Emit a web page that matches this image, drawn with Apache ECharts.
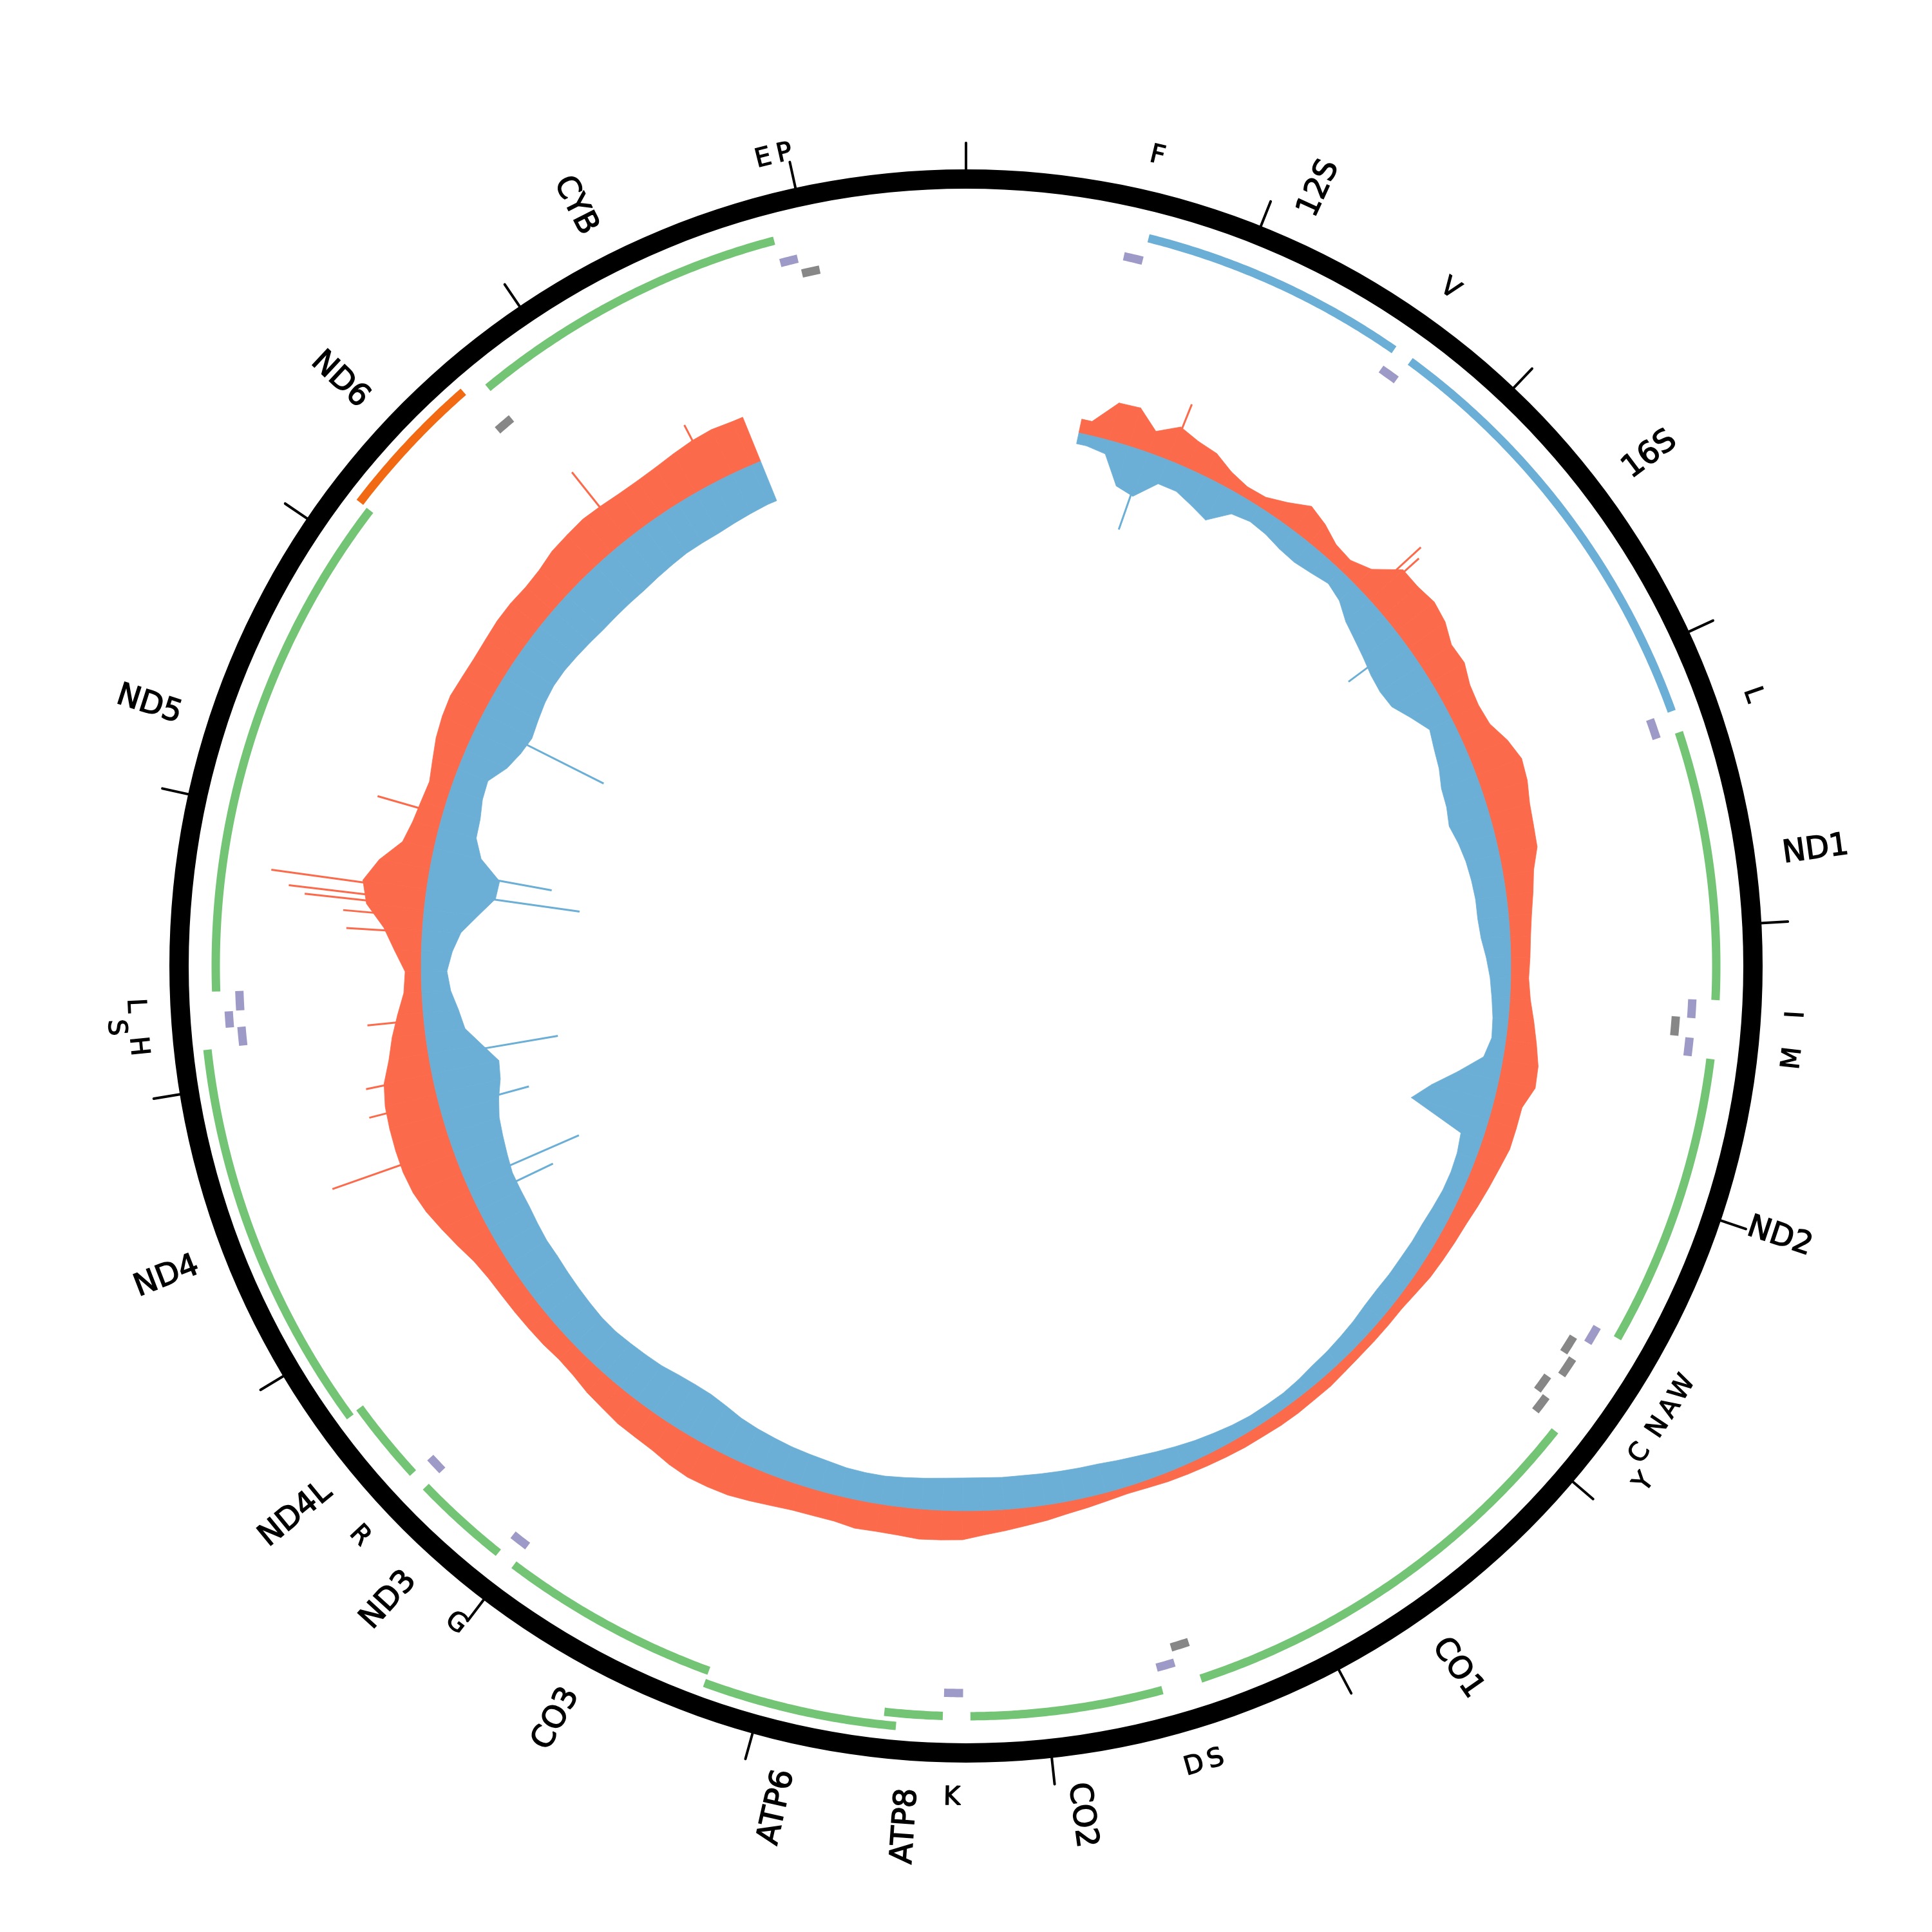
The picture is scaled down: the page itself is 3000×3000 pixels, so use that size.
<!DOCTYPE html>
<html>
<head>
<meta charset="utf-8">
<script src="https://cdn.jsdelivr.net/npm/echarts@6/dist/echarts.min.js"></script>
<style>
html,body{margin:0;padding:0;background:#ffffff;}
#chart{width:3000px;height:3000px;}
</style>
</head>
<body>
<div id="chart"></div>
<script>
// ---------------- DATA ----------------
const GENOME_LENGTH = 16569;

const geneNames  = ['F','12S','V','16S','L1','ND1','I','Q','M','ND2','W','A','N','C','Y','CO1','S1','D','CO2','K','ATP8','ATP6','CO3','G','ND3','R','ND4L','ND4','H','S2','L2','ND5','ND6','E','CYB','T','P'];
const geneLabels = ['F','12S','V','16S','L','ND1','I','','M','ND2','W','A','N','C','Y','CO1','S','D','CO2','K','ATP8','ATP6','CO3','G','ND3','R','ND4L','ND4','H','S','L','ND5','ND6','','CYB','E','P'];
const geneStarts = [577,648,1602,1671,3230,3307,4263,4329,4402,4470,5512,5587,5657,5761,5826,5904,7446,7518,7586,8295,8366,8527,9207,9991,10059,10405,10470,10760,12138,12207,12266,12337,14149,14674,14747,15888,15956];
const geneEnds   = [647,1601,1670,3229,3304,4262,4331,4400,4469,5511,5579,5655,5729,5826,5891,7445,7514,7585,8269,8364,8572,9207,9990,10058,10404,10469,10766,12137,12206,12265,12336,14148,14673,14742,15887,15953,16023];
const geneKinds  = ['tRNA','rRNA','tRNA','rRNA','tRNA','CDS','tRNA','tRNA','tRNA','CDS','tRNA','tRNA','tRNA','tRNA','tRNA','CDS','tRNA','tRNA','CDS','tRNA','CDS','CDS','CDS','tRNA','CDS','tRNA','CDS','CDS','tRNA','tRNA','tRNA','CDS','CDS','tRNA','CDS','tRNA','tRNA'];
const geneStrands= ['+','+','+','+','+','+','+','-','+','+','+','-','-','-','-','+','-','+','+','+','+','+','+','+','+','+','+','+','+','+','+','+','-','-','+','+','-'];

const tickPositions = [0,1000,2000,3000,4000,5000,6000,7000,8000,9000,10000,11000,12000,13000,14000,15000,16000];

// coverage in 100-bp bins starting at position 550 (forward = outward, reverse = inward)
const covBinStart = 550;
const covBinSize = 100;
const covForward = [22,60,62,35,55,45,40,25,17,18,30,47,38,25,22,35,70,70,75,70,
  58,60,50,47,50,65,75,72,65,62,60,48,42,36,32,30,28,32,40,48,
  56,58,45,45,45,40,36,32,28,26,24,22,18,15,15,15,15,16,18,18,
  19,19,18,18,17,16,15,14,12,11,13,16,19,24,28,33,38,45,46,47,
  44,43,44,40,40,41,45,50,55,57,58,55,50,48,47,43,40,35,33,35,
  36,37,38,40,45,55,65,75,82,85,85,84,82,76,62,52,40,28,25,42,
  60,90,100,80,50,42,38,35,42,50,55,58,56,55,56,58,58,56,58,64,
  66,68,66,64,64,66,70,74,76,74];
const covReverse = [17,22,65,72,40,40,50,60,32,27,30,36,38,34,28,35,50,58,65,72,
  75,72,55,38,45,50,58,60,65,58,53,50,48,48,45,38,32,28,24,22,
  30,65,100,125,35,30,28,28,30,32,32,33,33,34,33,30,28,26,25,22,
  20,20,20,22,25,28,32,36,40,43,46,47,48,49,50,50,51,51,50,48,
  46,44,44,45,48,50,52,55,58,62,68,72,72,70,66,64,62,60,60,62,
  64,66,68,68,70,72,72,72,76,80,84,92,102,106,85,62,55,45,40,48,
  60,85,108,110,75,60,58,52,50,70,80,85,80,75,72,72,74,76,78,78,
  78,78,76,74,72,72,72,70,68,66];

// isolated tall single-position spikes
const fwdSpikePos = [1008,2180,2210,11534,11770,11893,12166,12588,12663,12714,12740,12790,13168,14793,15303];
const fwdSpikeVal = [94,114,100,197,110,105,88,118,125,187,213,243,105,135,101];
const revSpikePos = [888,2457,11250,11340,11718,11980,12796,12903,13657];
const revSpikeVal = [128,106,135,190,142,203,240,192,216];

// ---------------- LAYOUT / STYLE ----------------
const RING_IN = 1207, RING_OUT = 1237, TICK_OUT = 1278;
const GENE_ROW0 = 1165, GENE_ROW_STEP = 20, GENE_THICK = 13;
const TRNA_H_ROW0 = 1129, TRNA_H_STEP = 18;
const TRNA_L_ROW0 = 1105, TRNA_L_STEP = 17;
const TRNA_THICK = 13;
const GENE_LABEL_R = 1280;
const TRNA_LABEL_R = 1292, TRNA_LABEL_STEP = 32;
const COV_BASE = 846, COV_MIN = -250, COV_MAX = 260;
const FONT = '"DejaVu Sans", sans-serif';
const FWD_COLOR = '#fb6a4a', REV_COLOR = '#6baed6';

const COLORS = {
  'CDS+': '#74c476', 'CDS-': '#f16913', 'rRNA+': '#6baed6', 'rRNA-': '#6baed6',
  'tRNA+': '#9e9ac8', 'tRNA-': '#878787'
};

function groupOf(i){
  if (geneKinds[i] === 'tRNA') return 'tRNA' + geneStrands[i];
  return 'gene';
}
// greedy interval layout: overlapping / touching features go to the next row
const geneRows = new Array(geneNames.length).fill(0);
(function(){
  const groups = {};
  geneNames.forEach((n,i)=>{ const g = groupOf(i); (groups[g] = groups[g] || []).push(i); });
  Object.keys(groups).forEach(g=>{
    const idx = groups[g].slice().sort((a,b)=>geneStarts[a]-geneStarts[b]);
    const rowEnds = [];
    idx.forEach(i=>{
      let r = 0;
      while (r < rowEnds.length && geneStarts[i] <= rowEnds[r] + 2) r++;
      rowEnds[r] = geneEnds[i];
      geneRows[i] = r;
    });
  });
})();

function geneRadius(i){
  const g = groupOf(i);
  if (g === 'gene') return GENE_ROW0 + geneRows[i]*GENE_ROW_STEP;
  if (g === 'tRNA+') return TRNA_H_ROW0 + geneRows[i]*TRNA_H_STEP;
  return TRNA_L_ROW0 + geneRows[i]*TRNA_L_STEP;
}

// tRNA label rows (avoid overlaps of neighbouring letters)
const labelRows = new Array(geneNames.length).fill(0);
(function(){
  const idx = geneNames.map((n,i)=>i).filter(i=>geneKinds[i]==='tRNA' && geneLabels[i]!=='')
    .sort((a,b)=>(geneStarts[a]+geneEnds[a])-(geneStarts[b]+geneEnds[b]));
  const last = [];
  idx.forEach(i=>{
    const ang = (geneStarts[i]+geneEnds[i])/2/GENOME_LENGTH*360;
    let r = 0;
    while (r < last.length && ang - last[r] < 1.45) r++;
    last[r] = ang;
    labelRows[i] = r;
  });
})();

// ---------------- HELPERS ----------------
function band(api, v0, v1, s, e){
  const n = Math.max(2, Math.ceil((e - s) / 12));
  const pts = [];
  for (let k=0;k<=n;k++){ const c = api.coord([v1, s+(e-s)*k/n]); pts.push([c[0],c[1]]); }
  for (let k=n;k>=0;k--){ const c = api.coord([v0, s+(e-s)*k/n]); pts.push([c[0],c[1]]); }
  return pts;
}
// area between baseline value 0 and a straight segment joining (va at a) and (vb at b)
function areaSeg(api, a, b, va, vb){
  const pts = [];
  const p1 = api.coord([va, a]), p2 = api.coord([vb, b]);
  pts.push([p1[0],p1[1]], [p2[0],p2[1]]);
  const n = Math.max(2, Math.ceil((b - a) / 12));
  for (let k=n;k>=0;k--){ const c = api.coord([0, a+(b-a)*k/n]); pts.push([c[0],c[1]]); }
  return pts;
}

// ---------------- SERIES ----------------
const ringSeries = {
  type:'custom', coordinateSystem:'polar', polarIndex:0, silent:true,
  data:[[RING_OUT, 0]],
  renderItem:function(params, api){
    const cs = params.coordSys;
    const ro = api.coord([RING_OUT, 0])[2];
    const ri = api.coord([RING_IN, 0])[2];
    return {type:'ring', shape:{cx:cs.cx, cy:cs.cy, r:ro, r0:ri}, style:{fill:'#000000'}};
  }
};

const tickSeries = {
  type:'custom', coordinateSystem:'polar', polarIndex:0, silent:true,
  data: tickPositions.map(p=>[RING_OUT, p]),
  renderItem:function(params, api){
    const p = api.value(1);
    const a = api.coord([RING_OUT - 2, p]);
    const b = api.coord([TICK_OUT, p]);
    return {type:'line', shape:{x1:a[0], y1:a[1], x2:b[0], y2:b[1]},
      style:{stroke:'#000000', lineWidth:4, lineCap:'round'}};
  }
};

const geneSeries = {
  type:'custom', coordinateSystem:'polar', polarIndex:0, silent:true,
  data: geneNames.map((n,i)=>[geneStarts[i], geneEnds[i], i]),
  renderItem:function(params, api){
    const i = api.value(2);
    const s = api.value(0), e = api.value(1);
    const rc = geneRadius(i);
    const th = geneKinds[i]==='tRNA' ? TRNA_THICK : GENE_THICK;
    const color = COLORS[geneKinds[i] + geneStrands[i]];
    return {type:'polygon', shape:{points: band(api, rc - th/2, rc + th/2, s, e)},
      style:{fill: color}};
  }
};

const labelSeries = {
  type:'custom', coordinateSystem:'polar', polarIndex:0, silent:true,
  data: geneNames.map((n,i)=>[(geneStarts[i]+geneEnds[i])/2, i]).filter(d=>geneLabels[d[1]]!==''),
  renderItem:function(params, api){
    const mid = api.value(0);
    const i = api.value(1);
    const theta = mid / GENOME_LENGTH * 360;
    if (geneKinds[i] === 'tRNA'){
      const r = TRNA_LABEL_R + labelRows[i]*TRNA_LABEL_STEP;
      const c = api.coord([r, mid]);
      const rotDeg = (theta > 90 && theta < 270) ? (180 - theta) : -theta;
      return {type:'text', x:c[0], y:c[1], rotation: rotDeg*Math.PI/180,
        style:{text: geneLabels[i], fill:'#000000', stroke:'#000000', lineWidth:1.3,
          font:'40px ' + FONT, align:'center', verticalAlign:'middle'}};
    } else {
      const c = api.coord([GENE_LABEL_R, mid]);
      const right = theta < 180;
      const rotDeg = right ? (90 - theta) : (270 - theta);
      return {type:'text', x:c[0], y:c[1], rotation: rotDeg*Math.PI/180,
        style:{text: geneLabels[i], fill:'#000000', stroke:'#000000', lineWidth:1.5,
          font:'48px ' + FONT, align: right ? 'left' : 'right', verticalAlign:'middle'}};
    }
  }
};

// coverage drawn as a filled area: consecutive bin centres joined by straight segments
const N_BINS = covForward.length;
const covEnd = covBinStart + N_BINS * covBinSize;
const covSegments = [];
for (let k = -1; k < N_BINS; k++){
  const a = k < 0 ? covBinStart : covBinStart + (k + 0.5) * covBinSize;
  const b = k === N_BINS - 1 ? covEnd : covBinStart + (k + 1.5) * covBinSize;
  const ka = Math.max(k, 0), kb = Math.min(k + 1, N_BINS - 1);
  covSegments.push([a, b, covForward[ka], covForward[kb], covReverse[ka], covReverse[kb]]);
}

const coverageSeries = {
  type:'custom', coordinateSystem:'polar', polarIndex:1, silent:true,
  data: covSegments,
  renderItem:function(params, api){
    const a = api.value(0), b = api.value(1);
    const fa = api.value(2), fb = api.value(3), ra = api.value(4), rb = api.value(5);
    return {type:'group', children:[
      {type:'polygon', shape:{points: areaSeg(api, a, b, fa, fb)}, style:{fill:FWD_COLOR, stroke:FWD_COLOR, lineWidth:0.8}},
      {type:'polygon', shape:{points: areaSeg(api, a, b, -ra, -rb)}, style:{fill:REV_COLOR, stroke:REV_COLOR, lineWidth:0.8}}
    ]};
  }
};

const spikeData = fwdSpikePos.map((p,k)=>[p, fwdSpikeVal[k], 1])
  .concat(revSpikePos.map((p,k)=>[p, -revSpikeVal[k], -1]));
const spikeSeries = {
  type:'custom', coordinateSystem:'polar', polarIndex:1, silent:true,
  data: spikeData,
  renderItem:function(params, api){
    const p = api.value(0), v = api.value(1), sgn = api.value(2);
    const a = api.coord([0, p]), b = api.coord([v, p]);
    return {type:'line', shape:{x1:a[0], y1:a[1], x2:b[0], y2:b[1]},
      style:{stroke: sgn > 0 ? FWD_COLOR : REV_COLOR, lineWidth:3}};
  }
};

const option = {
  animation:false,
  backgroundColor:'#ffffff',
  polar:[
    {center:['50%','50%'], radius:[0, 1500]},
    {center:['50%','50%'], radius:[COV_BASE + COV_MIN, COV_BASE + COV_MAX]}
  ],
  angleAxis:[
    {polarIndex:0, type:'value', min:0, max:GENOME_LENGTH, startAngle:90, clockwise:true, show:false},
    {polarIndex:1, type:'value', min:0, max:GENOME_LENGTH, startAngle:90, clockwise:true, show:false}
  ],
  radiusAxis:[
    {polarIndex:0, type:'value', min:0, max:1500, show:false},
    {polarIndex:1, type:'value', min:COV_MIN, max:COV_MAX, show:false}
  ],
  series:[spikeSeries, coverageSeries, geneSeries, ringSeries, tickSeries, labelSeries]
};

const chart = echarts.init(document.getElementById('chart'), null, {renderer:'canvas', width:3000, height:3000});
chart.setOption(option);
</script>
</body>
</html>
